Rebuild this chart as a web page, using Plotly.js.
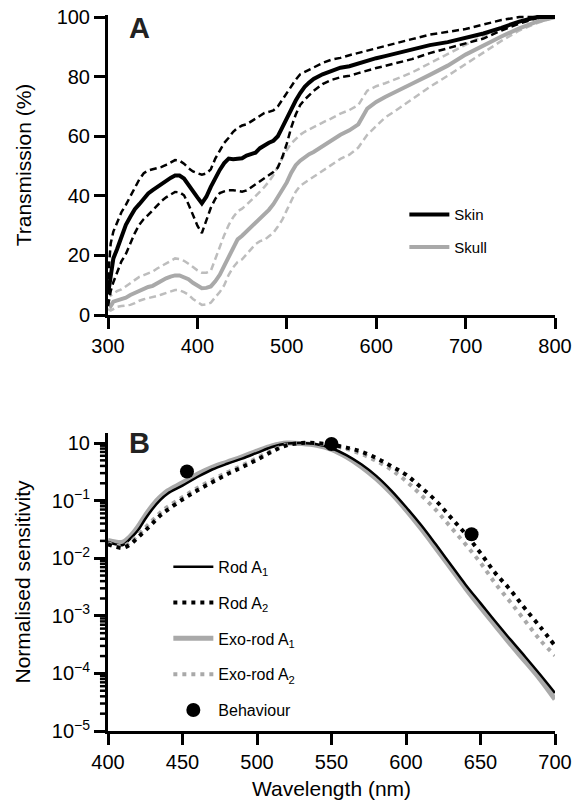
<!DOCTYPE html>
<html>
<head>
<meta charset="utf-8">
<script src="https://cdn.plot.ly/plotly-3.0.1.min.js"></script>
<style>html,body{margin:0;padding:0;background:#fff;}#chart{width:576px;height:803px;}</style>
</head>
<body>
<div id="chart"></div>
<script>
// ---------- Panel A: transmission (%) ----------
const wlA = [300,303,306,310,315,320,325,330,335,340,345,350,355,360,365,370,375,380,385,390,395,400,405,410,415,420,425,430,435,440,445,450,455,460,465,470,475,480,485,490,495,500,505,510,515,520,525,530,540,550,560,570,580,590,600,610,620,630,640,660,680,700,720,740,760,780,800];
const skinMean = [7,14,19,22,26.5,30.3,33,35.5,37.2,39.2,40.8,41.9,43,44,45.2,46,46.8,46.8,45.8,43.5,41.5,39.5,37.5,39.7,43,46,48.7,51,52.5,52.3,52.5,52.6,53.5,54,54.5,56,57,57.8,58.5,60,63,66,69.5,72,74.5,76.6,78,79.2,80.8,82,83,83.5,84.5,85.4,86.2,86.9,87.6,88.4,89.1,90.6,91.6,92.9,94.5,96.4,98.5,100,100];
const skinUpper = [12,24,28,31,34.5,37,40,43,45.5,47.6,48.5,48.9,49.3,49.7,50.4,51.2,52,51.8,50.8,49.3,48.2,47.6,47.1,47.5,48.9,52.5,55.3,57.8,59.5,61.5,62.8,63.6,64,65,66,67,67.8,68.2,68.7,70,72.3,74.5,76.6,79,80.8,81.6,82.4,83.2,84.6,85.7,86.3,87.2,88,88.8,89.5,90.2,91,91.8,92.6,94.1,95.1,96,97.5,99,100,100,100];
const skinLower = [3,8,11,14,18,20.5,24,27.5,30.3,32.2,33.6,35.2,36.5,38.3,39.5,40.5,41.3,41.2,40.2,37.2,33.5,30,27.5,31.9,36,39,40.9,41.5,41.9,41.9,41.6,41.4,41.8,42.8,43.8,44.8,45.9,47,48,49.5,53,57.5,63,67.3,70.5,72.3,73.8,75.2,77.5,78.9,79.8,80.3,81.2,82.1,82.9,83.6,84.3,85,85.9,87.9,89.5,91,92.8,95.5,97.8,99.7,100];
const skullMean = [4,3,4.5,4.8,5.2,5.8,6.7,7.4,8.2,8.9,9.4,9.8,10.7,11.5,12.3,12.9,13.3,13.3,12.8,12,10.8,10,9,9.1,9.6,11.3,13.5,16.5,19.5,23,25.4,26.6,28,29.4,31,32.4,33.6,35.3,37.2,39.5,41.8,44.5,47.8,50.3,51.8,53.1,54,54.7,56.6,58.7,60.5,62,64,69.3,71.5,73.2,74.6,76.1,77.6,80.6,83.7,87.4,90.6,93.5,96.2,98.5,100];
const skullUpper = [8,6.5,7,8,8.6,9.6,10.7,11.8,12.8,13.4,14,14.6,15.6,16.5,17.4,18.3,19,18.8,18.2,17.2,16,15,14.2,14.2,14.8,19,22.8,26.8,30.2,32.8,34.8,35.7,37,38.4,40,41.4,43,44.8,47,49.8,52.7,55.4,57.6,59.2,60.5,61.5,62.3,63.1,64.6,66,67.6,68.8,70.5,75.3,76.8,77.8,78.9,80.1,81.4,84.5,87.6,90.8,93.8,96.3,98.5,99.8,100];
const skullLower = [2,1.5,2,2.7,3,3.2,3.4,4,4.8,5.3,5.6,6,6.4,6.9,7.4,7.9,8.4,8.3,7.7,6.8,5.4,4.4,3.4,3.6,4.1,6,7.7,10,13.5,16,17.8,18.7,20.5,22.2,23.8,24.8,25.2,26.4,27.6,29.7,32,35.2,38.5,41.4,43.4,44.4,45.4,46.5,48.4,50.2,52.4,53.8,56.2,60.5,63.5,66.3,68.2,70.3,72.2,76.6,80.3,84.3,88,92,95.5,98,100];

// ---------- Panel B: normalised sensitivity ----------
const wlB = [400,405,410,415,420,425,430,435,440,450,460,470,480,490,500,510,520,530,540,550,560,570,580,590,600,610,620,630,640,650,660,670,680,690,700];
const rodA1 = [0.0191,0.0174,0.0170,0.0219,0.0302,0.0479,0.0724,0.1023,0.1318,0.182,0.257,0.347,0.437,0.537,0.676,0.851,0.977,1.0,0.955,0.813,0.617,0.427,0.269,0.151,0.0776,0.0380,0.0174,0.00776,0.00347,0.00166,0.000794,0.000389,0.000195,0.0000955,0.0000457];
const rodA2 = [0.0174,0.0158,0.0151,0.0174,0.0229,0.0302,0.0407,0.0550,0.0692,0.1047,0.151,0.209,0.288,0.380,0.513,0.708,0.912,1.0,1.0,0.933,0.832,0.708,0.550,0.398,0.282,0.170,0.100,0.0513,0.0263,0.0123,0.00550,0.00282,0.00132,0.000646,0.000302];
const exoA1 = [0.0204,0.0191,0.0191,0.0240,0.0347,0.0550,0.0832,0.1148,0.148,0.204,0.288,0.380,0.468,0.575,0.724,0.891,1.0,0.977,0.912,0.776,0.575,0.389,0.240,0.135,0.0692,0.0331,0.0151,0.00676,0.00302,0.00141,0.000676,0.000324,0.000162,0.0000794,0.0000355];
const exoA2 = [0.0182,0.0166,0.0162,0.0191,0.0251,0.0339,0.0457,0.0617,0.0776,0.1148,0.166,0.229,0.309,0.407,0.550,0.741,0.933,1.0,0.977,0.912,0.794,0.646,0.490,0.347,0.219,0.126,0.0692,0.0347,0.0174,0.00832,0.00363,0.00174,0.000813,0.000380,0.000204];
const behavWl = [453,550,644];
const behavVal = [0.32,0.96,0.026];

// tick labels
const tickA_y = [0,20,40,60,80,100];
const tickB_y = [1e-5,1e-4,1e-3,1e-2,1e-1,1];
const tickB_ytext = ['10<sup>\u22125</sup>','10<sup>\u22124</sup>','10<sup>\u22123</sup>','10<sup>\u22122</sup>','10<sup>\u22121</sup>','10'];
// minor tick positions (2..9 in each decade), drawn through the y2 scale
const minorB = [];
for (let i = 0; i < tickB_y.length - 1; i++) { for (let m = 2; m <= 9; m++) minorB.push(m * tickB_y[i]); }

const BLACK = '#000000', GREY = '#a9a9a9', GREYD = '#bdbdbd';
const FONT = 'Liberation Sans, Arial, Helvetica, sans-serif';

const traces = [
  {x: wlA, y: skullUpper, xaxis:'x', yaxis:'y', mode:'lines', line:{color:GREYD, width:2.5, dash:'7px,4px'}, showlegend:false},
  {x: wlA, y: skullLower, xaxis:'x', yaxis:'y', mode:'lines', line:{color:GREYD, width:2.5, dash:'7px,4px'}, showlegend:false},
  {x: wlA, y: skullMean, xaxis:'x', yaxis:'y', mode:'lines', name:'Skull', line:{color:GREY, width:4}, legend:'legend', legendgroup:'a2', legendrank:2},
  {x: wlA, y: skinUpper, xaxis:'x', yaxis:'y', mode:'lines', line:{color:BLACK, width:2.5, dash:'7px,4px'}, showlegend:false},
  {x: wlA, y: skinLower, xaxis:'x', yaxis:'y', mode:'lines', line:{color:BLACK, width:2.5, dash:'7px,4px'}, showlegend:false},
  {x: wlA, y: skinMean, xaxis:'x', yaxis:'y', mode:'lines', name:'Skin', line:{color:BLACK, width:4}, legend:'legend', legendgroup:'a1', legendrank:1},

  {x: wlB, y: exoA1, xaxis:'x2', yaxis:'y2', mode:'lines', name:'Exo-rod A<sub>1</sub>', line:{color:GREY, width:5, shape:'spline'}, legend:'legend2', legendgroup:'b3', legendrank:3},
  {x: wlB, y: rodA1, xaxis:'x2', yaxis:'y2', mode:'lines', name:'Rod A<sub>1</sub>', line:{color:BLACK, width:2.5, shape:'spline'}, legend:'legend2', legendgroup:'b1', legendrank:1},
  {x: wlB, y: exoA2, xaxis:'x2', yaxis:'y2', mode:'lines', name:'Exo-rod A<sub>2</sub>', line:{color:GREY, width:4, dash:'4px,5px', shape:'spline'}, legend:'legend2', legendgroup:'b4', legendrank:4},
  {x: wlB, y: rodA2, xaxis:'x2', yaxis:'y2', mode:'lines', name:'Rod A<sub>2</sub>', line:{color:BLACK, width:4, dash:'4px,5px', shape:'spline'}, legend:'legend2', legendgroup:'b2', legendrank:2},
  {x: behavWl, y: behavVal, xaxis:'x2', yaxis:'y2', mode:'markers', name:'Behaviour', marker:{color:BLACK, size:14}, legend:'legend2', legendgroup:'b5', legendrank:5}
];

const axisBase = {
  showline:true, linecolor:BLACK, linewidth:3, ticks:'outside', ticklen:11, tickwidth:3, tickcolor:BLACK,
  showgrid:false, zeroline:false, tickfont:{family:FONT, size:20, color:BLACK}
};

// minor ticks on the log axis of panel B
const minorShapes = minorB.map(v => ({
  type:'line', xref:'x2 domain', yref:'y2', x0:-0.018, x1:0, y0:v, y1:v,
  line:{color:BLACK, width:2.5}, layer:'above'
}));

const layout = {
  width:576, height:803,
  margin:{l:107.5, r:20.5, t:15, b:72},
  paper_bgcolor:'#ffffff', plot_bgcolor:'#ffffff',
  font:{family:FONT, color:BLACK},
  xaxis: Object.assign({}, axisBase, {domain:[0,1], anchor:'y', range:[300,800], tickmode:'linear', tick0:300, dtick:100}),
  yaxis: Object.assign({}, axisBase, {domain:[0.581,1], anchor:'x', range:[0,100.7], tickmode:'array', tickvals:tickA_y,
    title:{text:'Transmission (%)', font:{family:FONT, size:21, color:BLACK}, standoff:20}}),
  xaxis2: Object.assign({}, axisBase, {domain:[0,1], anchor:'y2', range:[400,700], tickmode:'linear', tick0:400, dtick:50,
    title:{text:'Wavelength (nm)', font:{family:FONT, size:21, color:BLACK}, standoff:10}}),
  yaxis2: Object.assign({}, axisBase, {domain:[0,0.4162], anchor:'x2', type:'log', range:[-5,0.174], tickmode:'array', tickvals:tickB_y, ticktext:tickB_ytext,
    title:{text:'Normalised sensitivity', font:{family:FONT, size:21, color:BLACK}, standoff:16}}),
  shapes: minorShapes,
  legend:{x:0.663, y:0.744, xanchor:'left', yanchor:'top', bgcolor:'rgba(0,0,0,0)', borderwidth:0,
    font:{family:FONT, size:15, color:BLACK}, traceorder:'grouped', tracegroupgap:10, itemwidth:40},
  legend2:{x:0.135, y:0.253, xanchor:'left', yanchor:'top', bgcolor:'rgba(0,0,0,0)', borderwidth:0,
    font:{family:FONT, size:16, color:BLACK}, traceorder:'grouped', tracegroupgap:12, itemwidth:40},
  annotations:[
    {text:'<b>A</b>', xref:'paper', yref:'paper', x:0.0702, y:0.9818, xanchor:'center', yanchor:'middle', showarrow:false, font:{family:FONT, size:29, color:'#222'}},
    {text:'<b>B</b>', xref:'paper', yref:'paper', x:0.0702, y:0.4022, xanchor:'center', yanchor:'middle', showarrow:false, font:{family:FONT, size:29, color:'#222'}}
  ],
  showlegend:true
};

Plotly.newPlot('chart', traces, layout, {staticPlot:true, displayModeBar:false});
</script>
</body>
</html>
